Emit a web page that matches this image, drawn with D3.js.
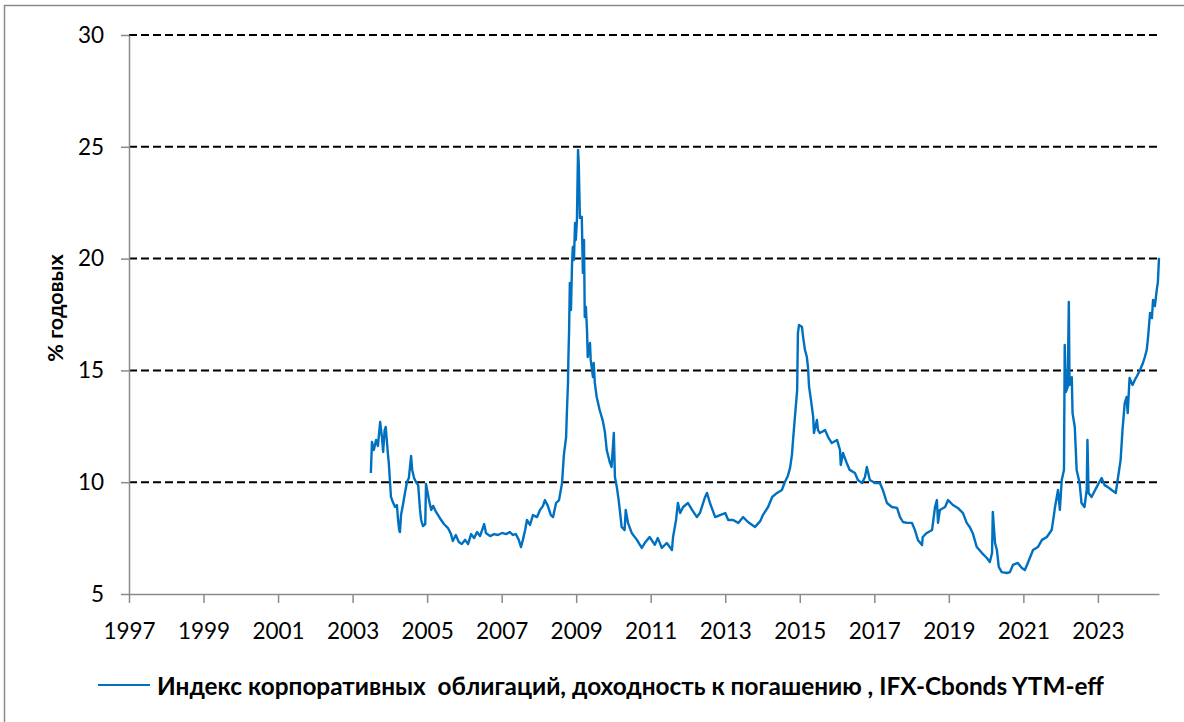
<!DOCTYPE html>
<html lang="ru">
<head>
  <meta charset="UTF-8">
  <title>IFX-Cbonds YTM-eff</title>
  <style>
    body { margin: 0; background: #fff; }
    svg { display: block; }
    .tick text { font-family: Lato, "Open Sans", sans-serif; font-size: 22.5px; fill: #000; }
  </style>
</head>
<body>
  <svg id="svg" width="1184" height="722"></svg>
  <script src="https://d3js.org/d3.v7.min.js"></script>
  <script>
    // dates as decimal years, yields in %
    const years = [
      2003.49, 2003.52, 2003.57, 2003.63, 2003.68, 2003.74, 2003.79, 2003.82, 2003.86, 2003.89,
      2003.95, 2003.97, 2004.03, 2004.08, 2004.14, 2004.19, 2004.22, 2004.25, 2004.27, 2004.30,
      2004.35, 2004.41, 2004.46, 2004.51, 2004.57, 2004.60, 2004.65, 2004.70, 2004.76, 2004.78,
      2004.81, 2004.84, 2004.89, 2004.95, 2004.97, 2005.00, 2005.05, 2005.11, 2005.16, 2005.24,
      2005.34, 2005.45, 2005.56, 2005.64, 2005.69, 2005.77, 2005.85, 2005.93, 2006.02, 2006.10,
      2006.18, 2006.26, 2006.34, 2006.42, 2006.53, 2006.58, 2006.69, 2006.80, 2006.90, 2007.01,
      2007.12, 2007.22, 2007.30, 2007.38, 2007.46, 2007.52, 2007.57, 2007.63, 2007.68, 2007.76,
      2007.84, 2007.95, 2008.03, 2008.11, 2008.16, 2008.24, 2008.32, 2008.38, 2008.46, 2008.54,
      2008.62, 2008.67, 2008.73, 2008.75, 2008.78, 2008.79, 2008.81, 2008.83, 2008.86, 2008.89,
      2008.91, 2008.94, 2008.97, 2008.99, 2009.02, 2009.05, 2009.07, 2009.10, 2009.15, 2009.18,
      2009.21, 2009.23, 2009.26, 2009.29, 2009.31, 2009.37, 2009.39, 2009.45, 2009.47, 2009.50,
      2009.55, 2009.63, 2009.71, 2009.77, 2009.82, 2009.90, 2009.95, 2010.01, 2010.04, 2010.09,
      2010.14, 2010.17, 2010.22, 2010.30, 2010.33, 2010.39, 2010.49, 2010.63, 2010.76, 2010.84,
      2010.97, 2011.11, 2011.19, 2011.30, 2011.43, 2011.57, 2011.60, 2011.68, 2011.73, 2011.79,
      2011.87, 2012.00, 2012.11, 2012.24, 2012.32, 2012.46, 2012.51, 2012.59, 2012.73, 2012.86,
      2013.00, 2013.08, 2013.21, 2013.35, 2013.48, 2013.61, 2013.80, 2013.94, 2014.01, 2014.15,
      2014.26, 2014.39, 2014.52, 2014.60, 2014.68, 2014.74, 2014.79, 2014.82, 2014.87, 2014.93,
      2014.95, 2014.98, 2015.06, 2015.09, 2015.14, 2015.19, 2015.22, 2015.25, 2015.30, 2015.36,
      2015.38, 2015.46, 2015.49, 2015.54, 2015.68, 2015.76, 2015.86, 2016.00, 2016.08, 2016.10,
      2016.16, 2016.26, 2016.34, 2016.48, 2016.56, 2016.67, 2016.75, 2016.80, 2016.88, 2017.02,
      2017.15, 2017.23, 2017.34, 2017.47, 2017.61, 2017.69, 2017.77, 2017.88, 2018.01, 2018.09,
      2018.17, 2018.28, 2018.30, 2018.41, 2018.55, 2018.63, 2018.68, 2018.71, 2018.76, 2018.90,
      2018.98, 2019.11, 2019.24, 2019.38, 2019.48, 2019.56, 2019.64, 2019.75, 2019.89, 2020.02,
      2020.10, 2020.16, 2020.18, 2020.24, 2020.29, 2020.34, 2020.42, 2020.56, 2020.64, 2020.72,
      2020.85, 2020.96, 2021.04, 2021.12, 2021.26, 2021.39, 2021.50, 2021.63, 2021.76, 2021.79,
      2021.85, 2021.93, 2021.98, 2022.03, 2022.09, 2022.11, 2022.14, 2022.19, 2022.22, 2022.24,
      2022.30, 2022.32, 2022.38, 2022.43, 2022.51, 2022.56, 2022.64, 2022.70, 2022.72, 2022.75,
      2022.83, 2022.97, 2023.10, 2023.18, 2023.26, 2023.37, 2023.48, 2023.53, 2023.61, 2023.66,
      2023.72, 2023.77, 2023.80, 2023.85, 2023.93, 2023.99, 2024.05, 2024.13, 2024.21, 2024.26,
      2024.31, 2024.34, 2024.40, 2024.45, 2024.48, 2024.53, 2024.58, 2024.61, 2024.64
    ]
    const yields = [
      10.41, 11.80, 11.44, 11.89, 11.62, 12.69, 11.98, 11.35, 12.33, 12.47,
      11.22, 10.90, 9.34, 9.11, 8.89, 8.98, 8.31, 7.86, 7.77, 8.53,
      8.98, 9.56, 10.01, 10.19, 11.17, 10.55, 10.19, 10.01, 9.87, 9.43,
      8.76, 8.31, 8.04, 8.13, 9.92, 9.65, 9.20, 8.76, 8.94, 8.67,
      8.40, 8.13, 7.95, 7.68, 7.37, 7.64, 7.33, 7.24, 7.42, 7.24,
      7.68, 7.50, 7.77, 7.59, 8.13, 7.73, 7.59, 7.68, 7.64, 7.73,
      7.68, 7.77, 7.64, 7.68, 7.42, 7.10, 7.42, 7.86, 8.31, 8.09,
      8.53, 8.44, 8.76, 8.94, 9.20, 8.94, 8.53, 8.44, 9.07, 9.20,
      9.96, 11.22, 12.02, 13.09, 14.44, 15.47, 16.81, 18.91, 17.70, 19.85,
      20.52, 19.94, 21.59, 20.83, 21.73, 24.86, 24.19, 21.82, 21.87, 19.36,
      20.83, 17.39, 17.84, 16.81, 15.60, 16.23, 15.47, 14.70, 15.33, 14.44,
      13.81, 13.23, 12.78, 12.25, 11.44, 10.90, 10.68, 12.20, 10.23, 9.79,
      9.20, 8.76, 8.00, 7.86, 8.76, 8.18, 7.73, 7.42, 7.06, 7.28,
      7.55, 7.20, 7.50, 7.06, 7.28, 6.97, 7.55, 8.31, 9.07, 8.62,
      8.89, 9.07, 8.76, 8.44, 8.62, 9.34, 9.52, 9.07, 8.44, 8.53,
      8.62, 8.31, 8.31, 8.18, 8.44, 8.22, 8.00, 8.26, 8.53, 8.89,
      9.34, 9.52, 9.65, 10.01, 10.28, 10.64, 11.22, 11.89, 12.92, 14.12,
      16.67, 17.03, 16.94, 16.49, 15.91, 15.60, 15.15, 14.26, 13.68, 12.92,
      12.20, 12.78, 12.33, 12.20, 12.33, 12.02, 11.75, 11.89, 11.44, 10.77,
      11.31, 10.86, 10.55, 10.41, 10.10, 9.96, 10.23, 10.68, 10.10, 9.96,
      9.96, 9.65, 9.07, 8.89, 8.85, 8.44, 8.22, 8.18, 8.18, 7.86,
      7.42, 7.19, 7.55, 7.73, 7.86, 8.89, 9.20, 8.18, 8.76, 8.89,
      9.20, 8.98, 8.85, 8.62, 8.18, 8.00, 7.73, 7.10, 6.83, 6.61,
      6.43, 6.83, 8.67, 7.28, 6.97, 6.21, 5.98, 5.94, 5.98, 6.30,
      6.39, 6.16, 6.07, 6.39, 6.97, 7.10, 7.42, 7.55, 7.86, 8.18,
      8.89, 9.65, 8.76, 10.10, 10.55, 16.14, 14.03, 14.26, 18.06, 14.35,
      14.70, 13.09, 12.47, 10.55, 9.96, 9.07, 8.89, 9.65, 11.89, 9.52,
      9.34, 9.79, 10.19, 9.87, 9.79, 9.65, 9.52, 10.10, 10.99, 12.33,
      13.54, 13.81, 13.09, 14.66, 14.35, 14.57, 14.75, 15.02, 15.33, 15.60,
      15.91, 16.36, 17.57, 17.34, 18.15, 17.88, 18.60, 18.95, 20.03
    ]

    const yearTicks = [1997, 1999, 2001, 2003, 2005, 2007, 2009, 2011, 2013, 2015, 2017, 2019, 2021, 2023]
    const yieldTicks = [5, 10, 15, 20, 25, 30]
    const seriesName = 'Индекс корпоративных  облигаций, доходность к погашению , IFX-Cbonds YTM-eff'
    const axisTitle = '% годовых'

    const data = years.map((y, i) => ({ year: y, value: yields[i] }))

    const plot = { left: 129, right: 1159, top: 35, bottom: 594 }
    const axisColor = '#8a8a8a'
    const lineColor = '#0070C0'

    const svg = d3.select('#svg')

    // outer chart frame (runs off the page on the right and bottom)
    svg.append('rect')
      .attr('x', 4.5).attr('y', 5.5)
      .attr('width', 1200).attr('height', 740)
      .attr('fill', '#fff')
      .attr('stroke', axisColor)
      .attr('stroke-width', 1.5)

    const xscale = d3.scaleLinear()
      .domain([1997, 2024.64])
      .range([plot.left, plot.right])

    const yscale = d3.scaleLinear()
      .domain([5, 30])
      .range([plot.bottom, plot.top])

    // dashed gridlines
    svg.append('g')
      .selectAll('line')
      .data(yieldTicks.filter(d => d > 5))
      .enter()
      .append('line')
      .attr('x1', plot.left)
      .attr('x2', plot.right)
      .attr('y1', d => yscale(d))
      .attr('y2', d => yscale(d))
      .attr('stroke', '#000')
      .attr('stroke-width', 2)
      .attr('stroke-dasharray', '8,4')

    // y axis
    const leftAxis = d3.axisLeft(yscale)
      .tickValues(yieldTicks)
      .tickSize(8)
      .tickSizeOuter(0)
      .tickPadding(17)
    const gy = svg.append('g')
      .attr('transform', `translate(${plot.left}, 0)`)
      .call(leftAxis)

    // x axis
    const bottomAxis = d3.axisBottom(xscale)
      .tickValues(yearTicks)
      .tickFormat(d => d)
      .tickSize(9)
      .tickSizeOuter(0)
      .tickPadding(20)
    const gx = svg.append('g')
      .attr('transform', `translate(0, ${plot.bottom})`)
      .call(bottomAxis)

    for (const g of [gx, gy]) {
      g.selectAll('path, line').attr('stroke', axisColor).attr('stroke-width', 1.5)
    }

    // the series
    const line = d3.line()
      .x(d => xscale(d.year))
      .y(d => yscale(d.value))

    svg.append('path')
      .datum(data)
      .attr('fill', 'none')
      .attr('stroke', lineColor)
      .attr('stroke-width', 2.4)
      .attr('stroke-linejoin', 'round')
      .attr('d', line)

    // y axis title
    svg.append('text')
      .attr('transform', 'translate(63, 308) rotate(-90)')
      .attr('text-anchor', 'middle')
      .style('font-family', 'Lato, "Open Sans", sans-serif')
      .style('font-weight', 'bold')
      .style('font-size', '21.5px')
      .text(axisTitle)

    // legend
    svg.append('line')
      .attr('x1', 98).attr('x2', 150)
      .attr('y1', 685).attr('y2', 685)
      .attr('stroke', lineColor)
      .attr('stroke-width', 2)

    const legendText = svg.append('text')
      .attr('x', 157)
      .attr('y', 695)
      .style('font-family', 'Lato, "Open Sans", sans-serif')
      .style('font-weight', 'bold')
      .style('font-size', '21px')
      .style('white-space', 'pre')
      .text(seriesName)

    // fit legend to the width it has in the original
    const w = legendText.node().getComputedTextLength()
    legendText.style('font-size', (21 * 947 / w).toFixed(2) + 'px')
  </script>
</body>
</html>
